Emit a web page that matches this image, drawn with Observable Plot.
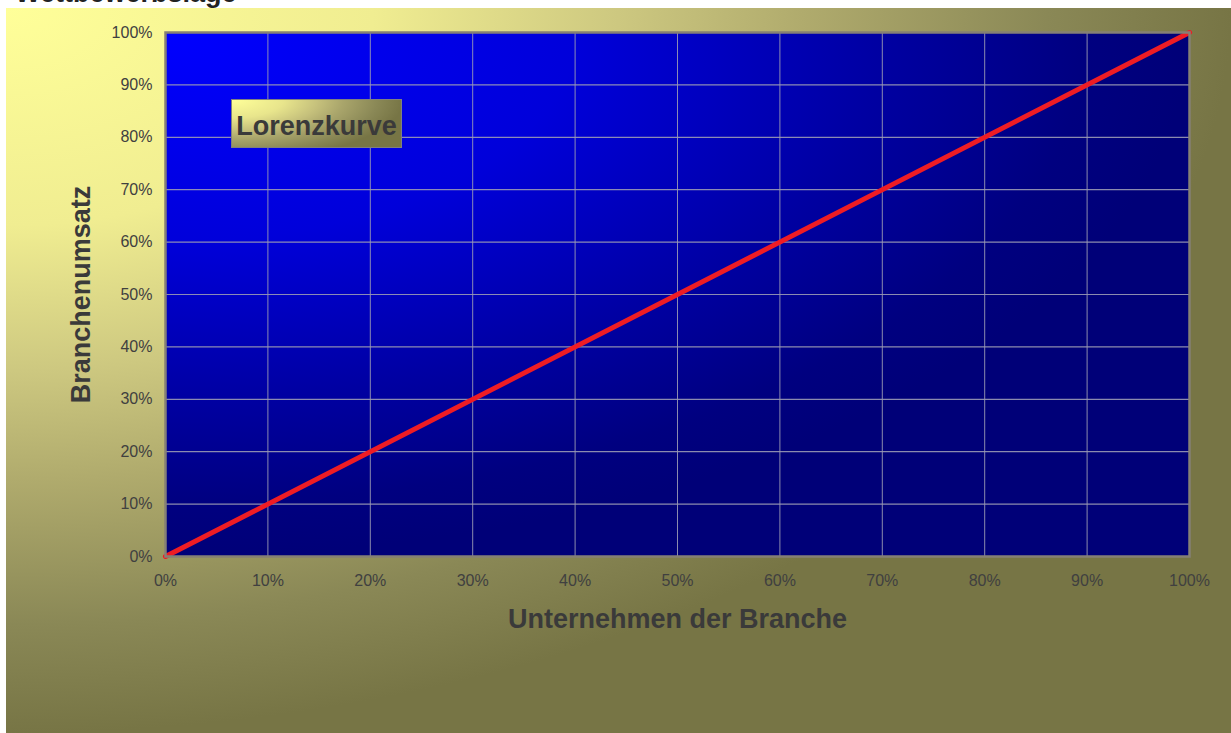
<!DOCTYPE html>
<html>
<head>
<meta charset="utf-8">
<script src="https://cdn.jsdelivr.net/npm/d3@7"></script>
<script src="https://cdn.jsdelivr.net/npm/@observablehq/plot@0.6"></script>
<style>
  html, body { margin: 0; padding: 0; background: #fff; overflow: hidden; width: 1231px; height: 733px; }
  #title { position: absolute; left: 15px; top: -20px; font: bold 27px "Liberation Sans", Arial, sans-serif; line-height: 27px; color: #222; white-space: nowrap; z-index: 3; }
  #chart { position: absolute; left: 6px; top: 8px; width: 1225px; height: 725px;
    background: radial-gradient(1225px 725px at 0 0, #ffff99 0%, #f0ed91 30%, #cdc880 50%, #b0ab6d 65%, #8a8856 85%, #777545 100%); }
  #chart svg { position: absolute; left: 0; top: 0; }
  #box { position: absolute; left: 225px; top: 91px; width: 169px; height: 47px; border: 1px solid #808080; box-sizing: content-box;
    background: radial-gradient(171px 60px at 0 0, #ffff99 0%, #e8e58c 30%, #c6c17c 50%, #a9a56b 65%, #8a8856 85%, #777545 100%);
    font: bold 27px "Liberation Sans", Arial, sans-serif; color: #3a3a3a; display: flex; align-items: center; justify-content: center; padding-top: 0; z-index: 2; }
  #box span { position: relative; top: 3px; }
</style>
</head>
<body>
<div id="title">Wettbewerbslage</div>
<div id="chart"><div id="box"><span>Lorenzkurve</span></div></div>
<script>
// Data
const unternehmenAnteil = [0, 1];   // x: Unternehmen der Branche (kumuliert)
const umsatzAnteil = [0, 1];        // y: Branchenumsatz (kumuliert)
const tickValues = [0, 0.1, 0.2, 0.3, 0.4, 0.5, 0.6, 0.7, 0.8, 0.9, 1];
const tickLabels = ["0%", "10%", "20%", "30%", "40%", "50%", "60%", "70%", "80%", "90%", "100%"];
const xTitle = "Unternehmen der Branche";
const yTitle = "Branchenumsatz";

const data = unternehmenAnteil.map((x, i) => ({x, y: umsatzAnteil[i]}));
const fmt = v => tickLabels[tickValues.findIndex(t => Math.abs(t - v) < 1e-9)];
const font = '"Liberation Sans", Arial, sans-serif';

const plot = Plot.plot({
  width: 1225,
  height: 725,
  marginLeft: 159,
  marginTop: 24,
  marginRight: 42,
  marginBottom: 177,
  style: { background: "transparent", fontFamily: font, fontSize: "16px", color: "#404040", overflow: "visible" },
  x: { domain: [0, 1] },
  y: { domain: [0, 1] },
  marks: [
    Plot.frame({ fill: "url(#plotBg)" }),
    Plot.gridX(tickValues, { stroke: "#9a9ab4", strokeOpacity: 0.9, strokeWidth: 1 }),
    Plot.gridY(tickValues, { stroke: "#9a9ab4", strokeOpacity: 0.9, strokeWidth: 1.2 }),
    Plot.axisX(tickValues, { tickSize: 0, tickPadding: 18, tickFormat: fmt, label: null, fontSize: 16, fill: "#404040" }),
    Plot.axisY(tickValues, { tickSize: 0, tickPadding: 13, tickFormat: fmt, label: null, fontSize: 16, fill: "#404040" }),
    Plot.line(data, { x: "x", y: "y", stroke: "#ee1c24", strokeWidth: 5 }),
    Plot.frame({ stroke: "#858075", strokeWidth: 2.5 }),
    Plot.text([xTitle], { text: d => d, frameAnchor: "bottom", dy: 63, textAnchor: "middle", lineAnchor: "middle", fontSize: 27, fontWeight: "bold", fill: "#3a3a3a" }),
    Plot.text([yTitle], { text: d => d, frameAnchor: "left", dx: -84, rotate: -90, textAnchor: "middle", lineAnchor: "middle", fontSize: 27, fontWeight: "bold", fill: "#3a3a3a" })
  ]
});

const defs = d3.select(plot).insert("defs", ":first-child");
const g = defs.append("radialGradient").attr("id", "plotBg")
  .attr("cx", 0).attr("cy", 0).attr("fx", 0).attr("fy", 0).attr("r", 1);
[[0, "#0000ff"], [0.4, "#0000da"], [0.7, "#0000a2"], [0.9, "#000080"], [1, "#000078"]]
  .forEach(([o, c]) => g.append("stop").attr("offset", o).attr("stop-color", c));

document.getElementById("chart").appendChild(plot);
</script>
</body>
</html>
